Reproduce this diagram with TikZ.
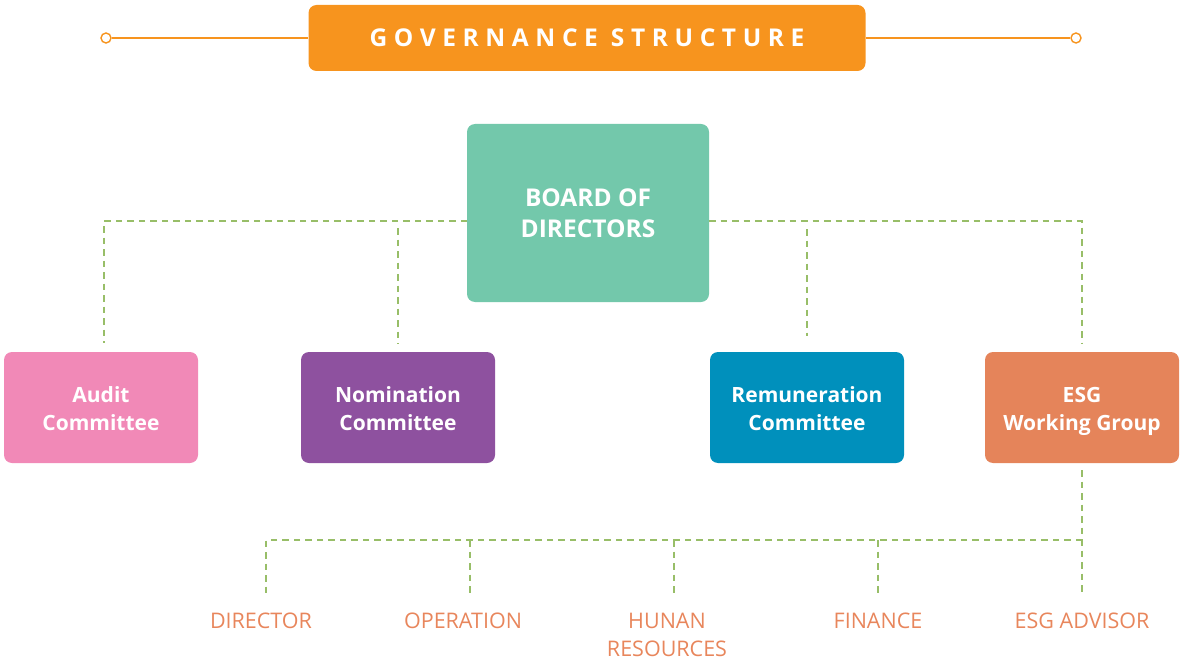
\documentclass[tikz,border=0pt]{standalone}
\usepackage{fontspec}
\setmainfont{Open Sans}
\definecolor{orangeT}{RGB}{247,148,30}
\definecolor{boardC}{RGB}{115,200,171}
\definecolor{auditC}{RGB}{241,137,183}
\definecolor{nomC}{RGB}{142,81,159}
\definecolor{remC}{RGB}{0,144,188}
\definecolor{esgC}{RGB}{229,132,90}
\definecolor{dashC}{RGB}{152,190,104}
\definecolor{labelC}{RGB}{232,134,92}
\newcommand{\toppad}{\rule{0pt}{26pt}}
\begin{document}
\begin{tikzpicture}[x=1pt,y=-1pt,
  box/.style={rounded corners=8pt, draw=none, text=white, align=center, inner sep=0pt},
  combox/.style={box, minimum width=194pt, minimum height=111pt, font=\fontsize{21}{28}\selectfont\bfseries},
  conn/.style={draw=dashC, line width=1.4pt, dash pattern=on 6.5pt off 5pt},
  lab/.style={text=labelC, align=center, inner sep=0pt, font=\fontsize{21.5}{28}\selectfont},
  dotend/.style={circle, draw=orangeT, line width=1.4pt, fill=white, minimum size=10pt, inner sep=0pt}
]
\useasboundingbox (0,0) rectangle (1180,663);

% title
\node[box, fill=orangeT, minimum width=557pt, minimum height=66pt,
      font=\fontsize{24.5}{30}\selectfont\bfseries\addfontfeature{LetterSpace=27}] (title) at (587,38) {GOVERNANCE STRUCTURE};
\node[dotend] (dl) at (106,38) {};
\node[dotend] (dr) at (1076,38) {};
\draw[orangeT, line width=1.6pt] (dl) -- (title.west);
\draw[orangeT, line width=1.6pt] (title.east) -- (dr);

% board
\node[box, fill=boardC, minimum width=242pt, minimum height=178pt,
      font=\fontsize{24.5}{31}\selectfont\bfseries] (board) at (588,213) {BOARD OF\\DIRECTORS};

% committees
\node[combox, fill=auditC] (audit) at (101,407.5) {\toppad Audit\\Committee\strut};
\node[combox, fill=nomC] (nom) at (398,407.5) {\toppad Nomination\\Committee\strut};
\node[combox, fill=remC] (rem) at (807,407.5) {\toppad Remuneration\\Committee\strut};
\node[combox, fill=esgC] (esg) at (1082,407.5) {\toppad ESG\\Working Group\strut};

% connectors board -> committees
\coordinate (bw) at (467,221);
\coordinate (be) at (709,221);
\coordinate (nomtop) at (398,228);
\coordinate (remtop) at (807,229);
\draw[conn] (bw) -| ([xshift=3pt,yshift=9pt]audit.north);
\draw[conn] (nomtop) -- ([yshift=8pt]nom.north);
\draw[conn] (be) -| ([yshift=9pt]esg.north);
\draw[conn] (remtop) -- ([yshift=16pt]rem.north);

% bottom labels
\node[lab] (director) at (261,621) {DIRECTOR};
\node[lab] (operation) at (463,621) {OPERATION};
\node[lab] (hr) at (667,635) {HUNAN\\RESOURCES};
\node[lab] (finance) at (878,621) {FINANCE};
\node[lab] (advisor) at (1082,621) {ESG ADVISOR};

\coordinate (hl) at (266,540);
\coordinate (dirtop) at (266,596);
\coordinate (optop) at (470,596);
\coordinate (hrtop) at (674,596);
\coordinate (fintop) at (878,596);
\coordinate (advtop) at (1082,596);
\coordinate (hop) at (470,540);
\coordinate (hhr) at (674,540);
\coordinate (hfin) at (878,540);
\draw[conn] ([yshift=-7pt]esg.south) -- (advtop);
\draw[conn] (esg.south |- hl) -- (hl) -- (dirtop);
\draw[conn] (hop) -- (optop);
\draw[conn] (hhr) -- (hrtop);
\draw[conn] (hfin) -- (fintop);
\end{tikzpicture}
\end{document}
